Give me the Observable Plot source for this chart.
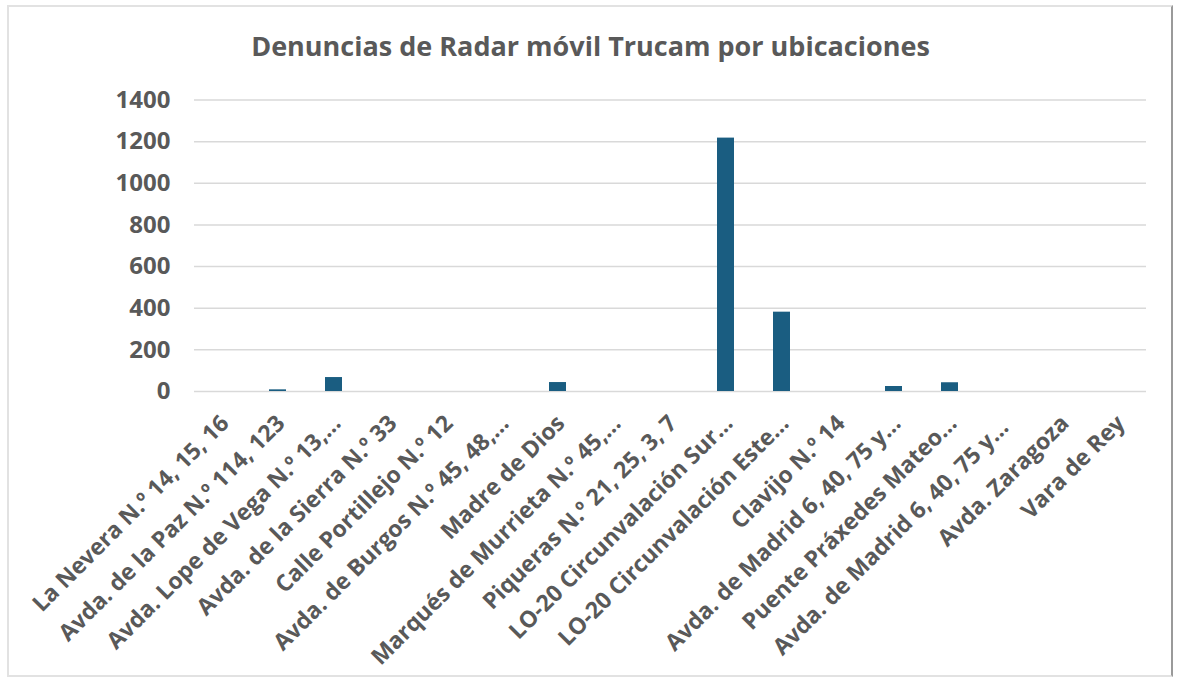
<!DOCTYPE html>
<html>
<head>
<meta charset="utf-8">
<script src="https://cdn.jsdelivr.net/npm/d3@7"></script>
<script src="https://cdn.jsdelivr.net/npm/@observablehq/plot@0.6"></script>
<style>
  html, body { margin: 0; padding: 0; background: #fff; }
  #frame {
    position: absolute; left: 7px; top: 5px; width: 1166px; height: 672px;
    border: 2px solid #e2e2e2; border-right-color: #9a9a9a; box-sizing: border-box;
  }
  #title {
    position: absolute; left: 0; top: 28px; width: 1181px; text-align: center;
    font-family: "Open Sans", sans-serif; font-weight: 700; font-size: 27px;
    line-height: 36px; color: #595959;
  }
  #chart { position: absolute; left: 0; top: 64px; }
</style>
</head>
<body>
<div id="frame"></div>
<div id="title">Denuncias de Radar móvil Trucam por ubicaciones</div>
<div id="chart"></div>
<script>
const categories = [
  "La Nevera N.º 14, 15, 16",
  "Avda. de la Paz N.º 114, 123",
  "Avda. Lope de Vega N.º 13,…",
  "Avda. de la Sierra N.º 33",
  "Calle Portillejo N.º 12",
  "Avda. de Burgos N.º 45, 48,…",
  "Madre de Dios",
  "Marqués de Murrieta N.º 45,…",
  "Piqueras N.º 21, 25, 3, 7",
  "LO-20 Circunvalación Sur…",
  "LO-20 Circunvalación Este…",
  "Clavijo N.º 14",
  "Avda. de Madrid 6, 40, 75 y…",
  "Puente Práxedes Mateo…",
  "Avda. de Madrid 6, 40, 75 y… ",
  "Avda. Zaragoza",
  "Vara de Rey"
];
const values = [0, 8, 67, 0, 0, 0, 43, 0, 0, 1217, 381, 0, 24, 42, 0, 0, 0];
const yTicks = [0, 200, 400, 600, 800, 1000, 1200, 1400];

const data = categories.map((c, i) => ({ cat: c, value: values[i] }));

const chart = Plot.plot({
  width: 1177,
  height: 616,
  marginLeft: 194,
  marginRight: 31,
  marginTop: 35.5,
  marginBottom: 289,
  style: { fontFamily: "Open Sans, sans-serif", color: "#595959", background: "transparent" },
  x: { domain: categories, paddingInner: 0.69, paddingOuter: 0.345, label: null },
  y: { domain: [0, 1400], label: null },
  marks: [
    Plot.gridY(yTicks, { stroke: "#d9d9d9", strokeOpacity: 1, strokeWidth: 1.5 }),
    Plot.barY(data, { x: "cat", y: "value", fill: "#1a5d81" }),
    Plot.axisY(yTicks, {
      tickSize: 0, tickPadding: 24, fontSize: 24, fontWeight: 700,
      fill: "#595959", label: null, tickFormat: d => String(d)
    }),
    Plot.axisX({
      tickSize: 0, tickPadding: 6, tickRotate: -45, fontSize: 23, fontWeight: 700,
      fill: "#595959", label: null, textAnchor: "end", dx: 3, dy: 22
    })
  ]
});
document.getElementById("chart").appendChild(chart);
</script>
</body>
</html>
